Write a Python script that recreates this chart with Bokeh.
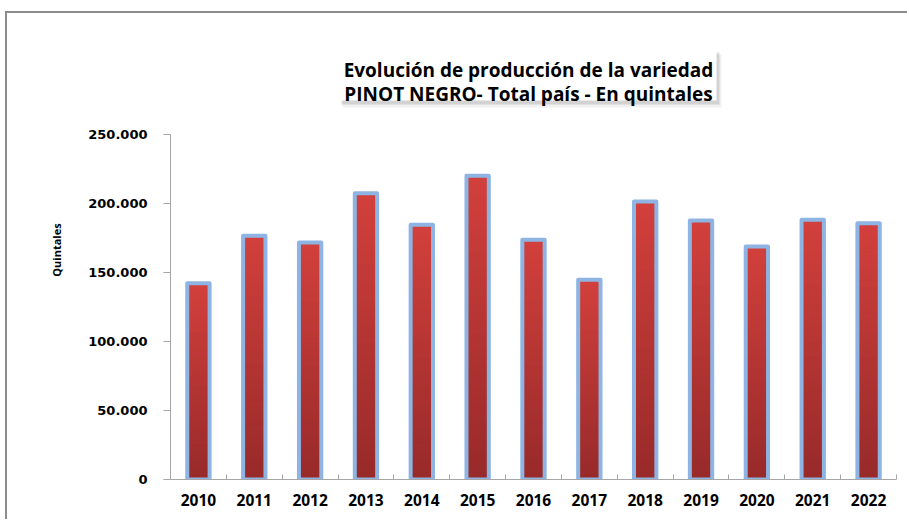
import math
from bokeh.plotting import figure
from bokeh.models import FixedTicker, Range1d, ColumnDataSource, LinearAxis
from bokeh.core.properties import value
from bokeh.embed import file_html
from bokeh.resources import INLINE

# ---------------- data ----------------
years = [2010, 2011, 2012, 2013, 2014, 2015, 2016, 2017, 2018, 2019, 2020, 2021, 2022]
production = [142100, 176400, 171600, 207300, 184500, 219900, 173500,
              144600, 201300, 187500, 168700, 188000, 185600]
y_ticks = [0, 50000, 100000, 150000, 200000, 250000]
y_tick_labels = ["0", "50.000", "100.000", "150.000", "200.000", "250.000"]
title_lines = ["Evolución de producción de la variedad",
               "PINOT NEGRO- Total país - En quintales"]
y_axis_title = "Quintales"

# ---------------- layout constants (page pixels) ----------------
W, H = 902, 508
OX, OY = 7, 13                  # canvas origin on page (margin + frame border)
FRAME_L, FRAME_R = 170, 896
FRAME_T, FRAME_B = 20, 479
PX_PER_UNIT = 345.3 / 250000.0
Y_END = (FRAME_B - FRAME_T) / PX_PER_UNIT
X0, X1 = years[0] - 0.5, years[-1] + 0.5

def vy(py):   # page y px -> value units
    return (FRAME_B - py) / PX_PER_UNIT

def vx(px):   # page x px -> x units
    return X0 + (px - FRAME_L) / (FRAME_R - FRAME_L) * (X1 - X0)

p = figure(width=W, height=H, x_range=Range1d(X0, X1), y_range=Range1d(0, Y_END),
           output_backend="svg", toolbar_location=None,
           min_border_left=FRAME_L - OX, min_border_right=OX + W - FRAME_R,
           min_border_top=FRAME_T - OY, min_border_bottom=OY + H - FRAME_B)
p.styles = {"border-top": "2px solid #8c8c8c", "border-left": "2px solid #8c8c8c",
            "margin-top": "11px", "margin-left": "5px"}
p.xgrid.visible = False
p.ygrid.visible = False
p.outline_line_color = None
p.background_fill_color = "white"
p.border_fill_color = "white"

# ---------------- title box ----------------
bx0, bx1, by0, by1 = 340, 716, 49, 100
p.quad(left=[vx(bx0 + 2)], right=[vx(bx1 + 5)], top=[vy(by0 + 5)], bottom=[vy(by1 + 7)],
       fill_color="#000000", fill_alpha=0.06, line_color=None)
p.quad(left=[vx(bx0 + 1)], right=[vx(bx1 + 3)], top=[vy(by0 + 3)], bottom=[vy(by1 + 4)],
       fill_color="#000000", fill_alpha=0.12, line_color=None)
p.quad(left=[vx(bx0)], right=[vx(bx1)], top=[vy(by0)], bottom=[vy(by1)],
       fill_color="white", line_color=None)
p.text(x=[vx(528), vx(528)], y=[vy(69.5), vy(93.5)], text=title_lines,
       text_font=value("Open Sans"), text_font_style="bold", text_font_size="19px",
       text_align="center", text_baseline="alphabetic", text_color="#000000")

# ---------------- bars with vertical gradient ----------------
light = (0xD1, 0x40, 0x3C)
dark = (0x98, 0x2A, 0x2A)
N = 40
xs, tops, bots, cols = [], [], [], []
for yr, v in zip(years, production):
    for k in range(N):
        t = k / (N - 1)
        c = tuple(int(round(dark[j] + (light[j] - dark[j]) * t)) for j in range(3))
        xs.append(yr)
        bots.append(v * k / N)
        tops.append(v)
        cols.append("#%02x%02x%02x" % c)
grad = ColumnDataSource(dict(x=xs, top=tops, bottom=bots, color=cols))
p.vbar(x="x", top="top", bottom="bottom", width=0.4, source=grad,
       fill_color="color", line_color=None)
bars = ColumnDataSource(dict(x=years, top=production))
p.vbar(x="x", top="top", width=0.4, source=bars, fill_alpha=0,
       line_color="#8db4e2", line_width=4, line_join="round")

# ---------------- axes ----------------
ya = p.yaxis[0]
ya.bounds = (0, 250000)
ya.ticker = FixedTicker(ticks=y_ticks, minor_ticks=[])
ya.major_label_overrides = {t: l for t, l in zip(y_ticks, y_tick_labels)}
ya.major_label_text_font = "DejaVu Sans"
ya.major_label_text_font_style = "bold"
ya.major_label_text_font_size = "13px"
ya.major_label_text_color = "#000000"
ya.major_label_standoff = 16
ya.major_tick_out = 7
ya.major_tick_in = 0
ya.minor_tick_out = 0
ya.minor_tick_in = 0
ya.axis_line_color = "#a6a6a6"
ya.major_tick_line_color = "#a6a6a6"

# separate tickless axis carrying the "Quintales" title, centred where Excel put it
mid = vy(253)
ta = LinearAxis(bounds=(mid - 5000, mid + 5000), ticker=FixedTicker(ticks=[], minor_ticks=[]),
                axis_line_color=None, major_tick_line_color=None, minor_tick_line_color=None,
                axis_label=y_axis_title, axis_label_standoff=22,
                axis_label_text_font="Open Sans", axis_label_text_font_style="bold",
                axis_label_text_font_size="11px", axis_label_text_color="#000000")
p.add_layout(ta, "left")

xa = p.xaxis[0]
xa.ticker = FixedTicker(ticks=years, minor_ticks=[y - 0.5 for y in years] + [years[-1] + 0.5])
xa.major_label_overrides = {y: str(y) for y in years}
xa.major_label_text_font = "Open Sans"
xa.major_label_text_font_style = "bold"
xa.major_label_text_font_size = "15.5px"
xa.major_label_text_color = "#000000"
xa.major_label_standoff = 14
xa.major_tick_out = 0
xa.major_tick_in = 0
xa.minor_tick_out = 0
xa.minor_tick_in = 5
xa.axis_line_color = "#a6a6a6"
xa.minor_tick_line_color = "#a6a6a6"

open("out.html", "w").write(file_html(p, INLINE))
